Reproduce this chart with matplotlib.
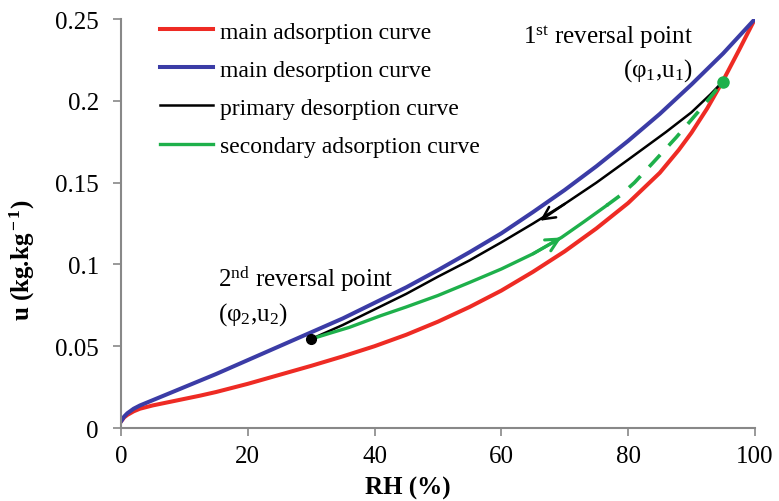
import matplotlib
matplotlib.use('Agg')
import matplotlib.pyplot as plt
import numpy as np

plt.rcParams['font.family'] = ['Liberation Serif', 'DejaVu Serif']
plt.rcParams['mathtext.fontset'] = 'custom'
plt.rcParams['mathtext.rm'] = 'Liberation Serif'
plt.rcParams['mathtext.it'] = 'Liberation Serif:italic'
plt.rcParams['mathtext.bf'] = 'Liberation Serif:bold'

# main adsorption curve (red)
ads_rh = [0, 0.5, 1, 2, 3, 5, 7.5, 10, 12.5, 15, 20, 25, 30, 35, 40, 45, 50, 55, 60, 65, 70,
          75, 80, 85, 88, 90, 92.5, 95, 97.5, 100]
ads_u = [0.004, 0.0065, 0.008, 0.0102, 0.0118, 0.0138, 0.0158, 0.0178, 0.0198, 0.022, 0.027,
         0.0325, 0.038, 0.0438, 0.050, 0.057, 0.065, 0.074, 0.084, 0.0955, 0.108, 0.122, 0.1375,
         0.156, 0.170, 0.1805, 0.1955, 0.2125, 0.231, 0.25]
# main desorption curve (blue)
des_rh = [0, 0.5, 1, 2, 3, 5, 7.5, 10, 12.5, 15, 20, 25, 30, 35, 40, 45, 50, 55, 60, 65, 70,
          75, 80, 85, 90, 95, 100]
des_u = [0.004, 0.007, 0.009, 0.0118, 0.0138, 0.017, 0.021, 0.025, 0.029, 0.033, 0.0415, 0.050,
         0.0585, 0.067, 0.0765, 0.086, 0.0965, 0.1075, 0.119, 0.132, 0.1455, 0.160, 0.1755,
         0.192, 0.210, 0.229, 0.25]
# primary desorption curve (black), from 1st to 2nd reversal point
pri_rh = [95, 93, 90, 86, 80, 75, 70, 65, 60, 55, 50, 45, 40, 35, 30]
pri_u = [0.212, 0.204, 0.193, 0.181, 0.164, 0.150, 0.137, 0.125, 0.1135, 0.1025, 0.0925, 0.082,
         0.0725, 0.063, 0.0544]
# secondary adsorption curve (green): solid part, then dashed part
sec_rh = [30, 33, 36, 41, 45, 50, 55, 60, 65, 69.5, 73, 76.6]
sec_u = [0.0544, 0.058, 0.0615, 0.0687, 0.074, 0.081, 0.089, 0.0972, 0.1065, 0.1165, 0.126, 0.136]
sec2_rh = [76.6, 78.7, 81, 84, 87.6, 91, 95]
sec2_u = [0.136, 0.142, 0.150, 0.1625, 0.1777, 0.193, 0.2117]

rev1 = (95, 0.2117)
rev2 = (30, 0.0544)

red = '#ee2b24'
blue = '#3b3ca6'
green = '#1eb04b'
grey = '#888888'

fig, ax = plt.subplots(figsize=(7.79, 5.02), dpi=100)
fig.subplots_adjust(left=0.1553, right=0.969, bottom=0.1454, top=0.960)

ax.plot(ads_rh, ads_u, color=red, lw=2.9, label='main adsorption curve')
ax.plot(des_rh, des_u, color=blue, lw=2.9, label='main desorption curve')
ax.plot(pri_rh, pri_u, color='black', lw=1.8, label='primary desorption curve')
ax.plot(sec_rh, sec_u, color=green, lw=2.4, label='secondary adsorption curve')
ax.plot(sec2_rh, sec2_u, color=green, lw=2.6, ls=(0, (4.5, 3.5)))
ax.plot(*rev2, 'o', color='black', ms=7)
ax.plot(*rev1, 'o', color=green, ms=8)

# direction arrows
ax.annotate('', xy=(66.1, 0.1267), xytext=(70, 0.137),
            arrowprops=dict(arrowstyle='->,head_length=0.9,head_width=0.45', color='black',
                            lw=1.8, shrinkA=0, shrinkB=0))
ax.annotate('', xy=(69.5, 0.1165), xytext=(65, 0.1065),
            arrowprops=dict(arrowstyle='->,head_length=0.9,head_width=0.45', color=green,
                            lw=2.2, shrinkA=0, shrinkB=0))

ax.text(90.2, 0.2396, r'1$^{\rm st}$ reversal point', fontsize=18, ha='right', va='center')
ax.text(90.2, 0.219, r'(φ$_{\rm 1}$,u$_{\rm 1}$)', fontsize=18, ha='right', va='center')
ax.text(15.3, 0.0917, r'2$^{\rm nd}$ reversal point', fontsize=18, ha='left', va='center')
ax.text(15.3, 0.0697, r'(φ$_{\rm 2}$,u$_{\rm 2}$)', fontsize=18, ha='left', va='center')

ax.set_xlim(0, 100)
ax.set_ylim(0, 0.25)
ax.set_xticks([0, 20, 40, 60, 80, 100])
ax.set_yticks([0, 0.05, 0.1, 0.15, 0.2, 0.25])
ax.set_yticklabels(['0', '0.05', '0.1', '0.15', '0.2', '0.25'])
ax.tick_params(axis='both', direction='out', length=6, width=1.2, color=grey, labelsize=18)
ax.tick_params(axis='x', pad=6)
ax.tick_params(axis='y', pad=10)
for s in ['top', 'right']:
    ax.spines[s].set_visible(False)
for s in ['left', 'bottom']:
    ax.spines[s].set_color(grey)
    ax.spines[s].set_linewidth(1.5)

ax.set_xlabel('RH (%)', fontsize=18, fontweight='bold')
ax.xaxis.set_label_coords(0.453, -0.118)
ax.set_ylabel(r'u (kg.kg$^{\bf -1}$)', fontsize=18, fontweight='bold')
ax.yaxis.set_label_coords(-0.133, 0.413)

ax.legend(loc='upper left', bbox_to_anchor=(0.0615, 0.995), frameon=False, fontsize=17,
          handlelength=2.25, handletextpad=0.3, labelspacing=0.7, borderpad=0,
          borderaxespad=0)

fig.savefig('out.png', dpi=100)
